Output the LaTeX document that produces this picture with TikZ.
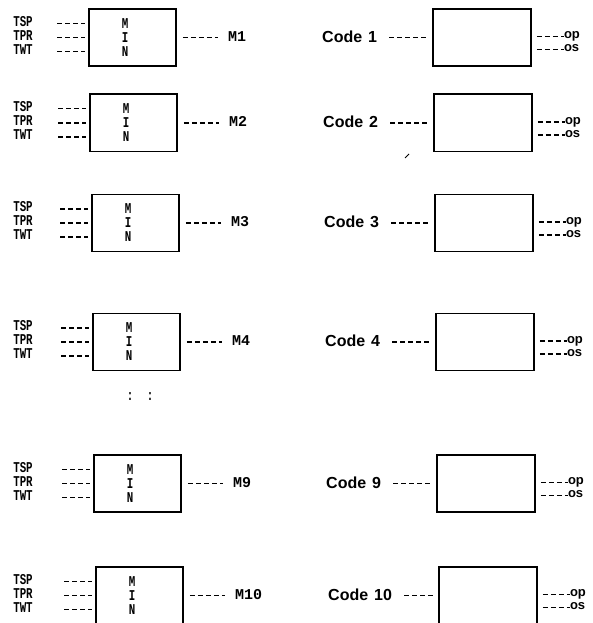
\documentclass[tikz,border=0pt]{standalone}
\usepackage{fontspec}
\newfontfamily\monoc[FakeStretch=0.72]{Liberation Mono}
\newfontfamily\monow{Liberation Mono}
\newfontfamily\sansb{Liberation Sans}
\usetikzlibrary{calc}
\begin{document}
\begin{tikzpicture}[x=1pt,y=-1pt,
  mbox/.style={draw, line width=1.8pt, minimum width=87pt, minimum height=57pt, inner sep=0pt, anchor=north west},
  cbox/.style={draw, line width=1.8pt, minimum width=98pt, minimum height=57pt, inner sep=0pt, anchor=north west},
  dl/.style={line width=1.2pt, dash pattern=on 5pt off 3pt},
  lab/.style={font=\monoc\bfseries\fontsize{15}{15}\selectfont, inner sep=0pt},
  mlab/.style={font=\monow\bfseries\fontsize{15}{15}\selectfont, inner sep=0pt, anchor=west},
  clab/.style={font=\sansb\bfseries\fontsize{16}{16}\selectfont, inner sep=0pt, anchor=west},
  olab/.style={font=\sansb\bfseries\fontsize{13}{13}\selectfont, inner sep=0pt, anchor=mid west}]
\useasboundingbox (0,0) rectangle (592,623);
\foreach \i/\c/\lx/\rx in {1/36.5/88/432, 2/122/89/433, 3/222/91/434, 4/341/92/435, 9/482.5/93/436, 10/594.5/95/438}{
  % left group
  \node[mbox] (L\i) at (\lx,\c-28.5) {};
  \node[lab] (tsp\i) at (23,\c-15) {TSP};
  \node[lab] (tpr\i) at (23,\c-1) {TPR};
  \node[lab] (twt\i) at (23,\c+13) {TWT};
  \draw[dl] ([xshift=-31pt,yshift=14pt]L\i.west) -- ([xshift=-3pt,yshift=14pt]L\i.west);
  \draw[dl] ([xshift=-31pt]L\i.west) -- ([xshift=-3pt]L\i.west);
  \draw[dl] ([xshift=-31pt,yshift=-14pt]L\i.west) -- ([xshift=-3pt,yshift=-14pt]L\i.west);
  \node[lab] (mM\i) at ([xshift=37pt,yshift=14pt]L\i.west) {M};
  \node[lab] (mI\i) at ([xshift=37pt]L\i.west) {I};
  \node[lab] (mN\i) at ([xshift=37pt,yshift=-14pt]L\i.west) {N};
  \node[mlab] (ML\i) at ([xshift=51pt,yshift=1pt]L\i.east) {M\i};
  \draw[dl] ([xshift=6pt]L\i.east) -- ([xshift=-10pt,yshift=-1pt]ML\i.west);
  % right group
  \node[cbox] (R\i) at (\rx,\c-28.5) {};
  \node[clab] (C\i) at ([xshift=-110pt,yshift=1pt]R\i.west) {Code\hspace{6pt}\i};
  \draw[dl] ([xshift=12pt,yshift=-1pt]C\i.east) -- ([xshift=-4pt]R\i.west);
  \node[olab] (op\i) at ([xshift=32pt,yshift=1pt]R\i.east) {op};
  \node[olab] (os\i) at ([xshift=32pt,yshift=-12pt]R\i.east) {os};
  \draw[dl] ([xshift=5pt,yshift=1pt]R\i.east) -- (op\i.mid west);
  \draw[dl] ([xshift=5pt,yshift=-12pt]R\i.east) -- (os\i.mid west);
}
\node[lab] (d1) at (130,397) {:};
\node[lab] (d2) at (150,397) {:};
\draw[line width=1pt] (405,158) -- (409,154);
\end{tikzpicture}
\end{document}
